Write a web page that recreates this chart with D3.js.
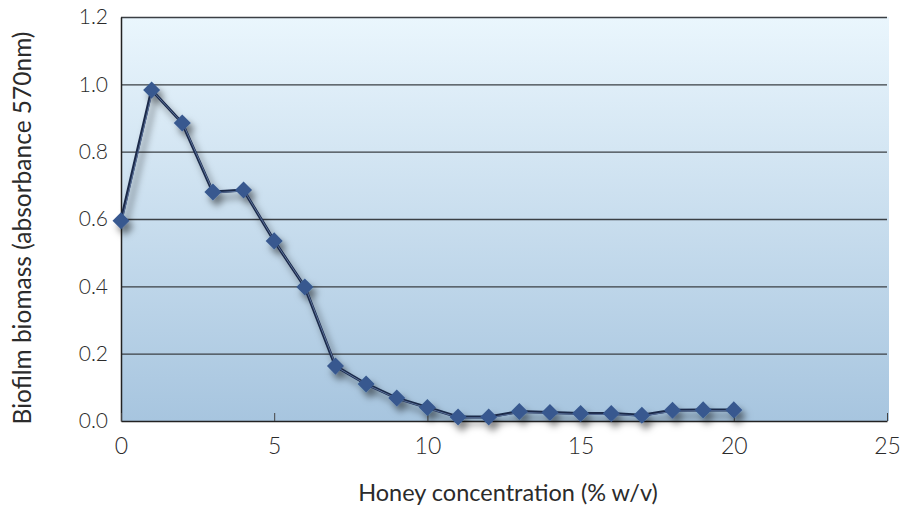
<!DOCTYPE html>
<html>
<head>
<meta charset="utf-8">
<script src="https://cdn.jsdelivr.net/npm/d3@7"></script>
<style>
  body { margin: 0; background: #fff; }
  text { font-family: Lato, "Open Sans", sans-serif; fill: #2b2b2b; }
</style>
</head>
<body>
<svg width="904" height="509"></svg>
<script>
// honey concentration (% w/v) and biofilm biomass
var concentration = [0, 1, 2, 3, 4, 5, 6, 7, 8, 9, 10, 11, 12, 13, 14, 15, 16, 17, 18, 19, 20];
var biomass = [0.595, 0.983, 0.885, 0.68, 0.686, 0.535, 0.398, 0.163, 0.11, 0.068, 0.04,
               0.012, 0.012, 0.028, 0.025, 0.022, 0.022, 0.017, 0.032, 0.033, 0.033];
var xTicks = [0, 5, 10, 15, 20, 25];
var yTicks = [0, 0.2, 0.4, 0.6, 0.8, 1.0, 1.2];

var dataset = concentration.map(function(c, i) { return {x: c, y: biomass[i]}; });

var margin = {top: 17, left: 121, right: 17, bottom: 88};
var w = 904 - margin.left - margin.right;
var h = 509 - margin.top - margin.bottom;

var svg = d3.select("svg");

// gradient for the plot background + shadow for the line
var defs = svg.append("defs");
var grad = defs.append("linearGradient")
    .attr("id", "bg").attr("x1", 0).attr("y1", 0).attr("x2", 0).attr("y2", 1);
grad.append("stop").attr("offset", "0%").attr("stop-color", "#eaf6fd");
grad.append("stop").attr("offset", "100%").attr("stop-color", "#a7c5df");

var shadow = defs.append("filter").attr("id", "shadow")
    .attr("x", "-10%").attr("y", "-10%").attr("width", "130%").attr("height", "130%");
shadow.append("feDropShadow")
    .attr("dx", 4).attr("dy", 6).attr("stdDeviation", 3.5)
    .attr("flood-color", "#000").attr("flood-opacity", 0.5);

var xScale = d3.scaleLinear().domain([0, 25]).range([0, w]);
var yScale = d3.scaleLinear().domain([0, 1.2]).range([h, 0]);

var g = svg.append("g")
    .attr("transform", "translate(" + margin.left + "," + margin.top + ")");

g.append("rect")
    .attr("x", 0).attr("y", 0)
    .attr("width", w + 2).attr("height", h)
    .attr("fill", "url(#bg)");

// gridlines
g.append("g")
    .attr("class", "grid")
    .call(d3.axisLeft(yScale).tickValues(yTicks.slice(1)).tickSize(-w).tickFormat(""))
    .call(function(s) {
        s.select(".domain").remove();
        s.selectAll("line").attr("stroke", "#3a3f44").attr("stroke-width", 1.3);
    });

// y axis
g.append("g")
    .call(d3.axisLeft(yScale).tickValues(yTicks).tickSize(0).tickPadding(13)
        .tickFormat(d3.format(".1f")))
    .call(function(s) {
        s.select(".domain").attr("stroke", "#222").attr("stroke-width", 1.5);
        s.selectAll("text").style("font-size", "21px").style("font-weight", 300)
            .attr("fill", "#333");
    });

// x axis, ticks pointing up into the plot
g.append("g")
    .attr("transform", "translate(0," + h + ")")
    .call(d3.axisBottom(xScale).tickValues(xTicks).tickSizeInner(-8).tickSizeOuter(0)
        .tickPadding(17))
    .call(function(s) {
        s.select(".domain").attr("stroke", "#222").attr("stroke-width", 1.5);
        s.selectAll("line").attr("stroke", "#444");
        s.selectAll("text").style("font-size", "23px").style("font-weight", 300)
            .attr("fill", "#333");
    });

// line + markers
var series = g.append("g").attr("filter", "url(#shadow)");

var line = d3.line()
    .x(function(d) { return xScale(d.x); })
    .y(function(d) { return yScale(d.y); });

series.append("path")
    .datum(dataset)
    .attr("d", line)
    .attr("fill", "none")
    .attr("stroke", "#1b2a4a")
    .attr("stroke-width", 3);

series.append("path")
    .datum(dataset)
    .attr("d", line)
    .attr("fill", "none")
    .attr("stroke", "#5a7099")
    .attr("stroke-width", 1)
    .attr("transform", "translate(0.8,0.8)");

series.selectAll(".pt")
    .data(dataset)
    .enter()
    .append("path")
    .attr("class", "pt")
    .attr("transform", function(d) {
        return "translate(" + xScale(d.x) + "," + yScale(d.y) + ")";
    })
    .attr("d", d3.symbol().type(d3.symbolDiamond2).size(185))
    .attr("fill", "#38598f");

// axis titles
svg.append("text")
    .attr("x", 508)
    .attr("y", 501)
    .attr("text-anchor", "middle")
    .style("font-size", "23.5px")
    .text("Honey concentration (% w/v)");

svg.append("text")
    .attr("transform", "translate(31,228) rotate(-90)")
    .attr("text-anchor", "middle")
    .style("font-size", "24.5px")
    .text("Biofilm biomass (absorbance 570nm)");
</script>
</body>
</html>
